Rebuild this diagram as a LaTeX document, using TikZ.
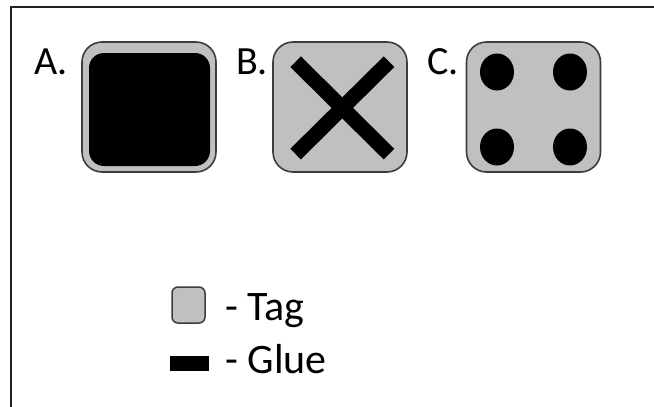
\documentclass[tikz,border=0pt]{standalone}
\usepackage{fontspec}
\setmainfont{Carlito}
\usetikzlibrary{shapes.geometric,calc}
\definecolor{taggray}{HTML}{C0C0C0}
\definecolor{edgegray}{HTML}{3C3C3C}
\definecolor{framec}{HTML}{222222}
\tikzset{
  tagbox/.style={draw=edgegray, fill=taggray, line width=1.6pt, rounded corners=20pt, inner sep=0pt, minimum width=134pt, minimum height=130pt},
  gluebox/.style={fill=black, rounded corners=15pt, inner sep=0pt},
  gluebar/.style={line width=15pt, black},
  gluedot/.style={fill=black, ellipse, inner sep=0pt, minimum width=34pt, minimum height=37pt},
  lab/.style={font=\fontsize{40}{40}\selectfont, anchor=base west, inner sep=0pt},
  legtext/.style={font=\fontsize{42}{42}\selectfont, anchor=base west, inner sep=0pt},
}
\begin{document}
\begin{tikzpicture}[x=1pt,y=-1pt]
\useasboundingbox (0,0) rectangle (654,407);
\fill[white] (0,0) rectangle (654,407);
% frame
\draw[framec, line width=2pt] (11,407) -- (11,7) -- (654,7);
% A
\node[lab] (la) at (34,74) {A.};
\node[tagbox] (tagA) at (149,107) {};
\node[gluebox, minimum width=121pt, minimum height=113pt] (glueA) at (149.5,109.5) {};
% B
\node[lab] (lb) at (236,74) {B.};
\node[tagbox] (tagB) at (340,107) {};
\coordinate (bc) at ($(tagB.center)+(2.3,0.9)$);
\coordinate (b1) at ($(bc)+(-46.7,-46.2)$);
\coordinate (b2) at ($(bc)+(46.7,46.2)$);
\coordinate (b3) at ($(bc)+(46.7,-46.2)$);
\coordinate (b4) at ($(bc)+(-46.7,46.2)$);
\draw[gluebar] (b1) -- (b2);
\draw[gluebar] (b3) -- (b4);
% C
\node[lab] (lc) at (427,74) {C.};
\node[tagbox] (tagC) at (533.5,107) {};
\node[gluedot] (d1) at (497,72) {};
\node[gluedot] (d2) at (570,72) {};
\node[gluedot] (d3) at (497,147) {};
\node[gluedot] (d4) at (570,147) {};
% legend
\node[draw=edgegray, fill=taggray, line width=1.5pt, rounded corners=6pt, inner sep=0pt, minimum width=33pt, minimum height=36pt] (legtag) at (188.5,305) {};
\node[fill=black, inner sep=0pt, minimum width=39pt, minimum height=15pt] (legglue) at (189.5,363.5) {};
\node[legtext] (tTag) at (225,320) {- Tag};
\node[legtext] (tGlue) at (225,373) {- Glue};
\end{tikzpicture}
\end{document}
